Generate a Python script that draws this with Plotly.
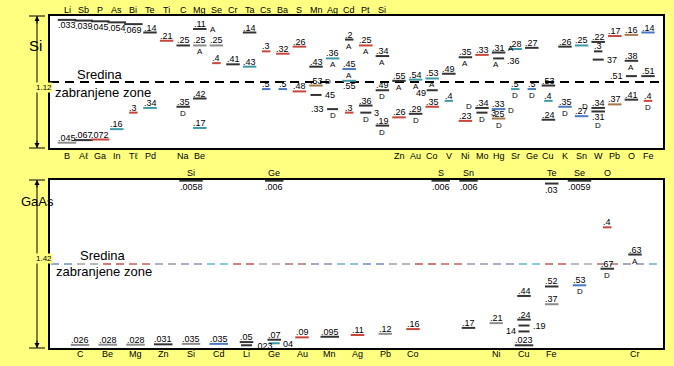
import plotly.graph_objects as go

# ---------------------------------------------------------------- data
SI_GAP = 1.12
GAAS_GAP = 1.42

SI_TOP_ELEMENTS = ["Li", "Sb", "P", "As", "Bi", "Te", "Ti", "C", "Mg", "Se", "Cr", "Ta",
                   "Cs", "Ba", "S", "Mn", "Ag", "Cd", "Pt", "Si"]
SI_BOTTOM_ELEMENTS = ["B", "Aℓ", "Ga", "In", "Tℓ", "Pd", "", "Na", "Be", "", "", "", "", "", "",
                      "", "", "", "", "", "Zn", "Au", "Co", "V", "Ni", "Mo", "Hg", "Sr", "Ge",
                      "Cu", "K", "Sn", "W", "Pb", "O", "Fe"]
GAAS_TOP_ELEMENTS = ["", "", "", "", "Si", "", "", "Ge", "", "", "", "", "", "S", "Sn", "", "",
                     "Te", "Se", "O", ""]
GAAS_BOTTOM_ELEMENTS = ["C", "Be", "Mg", "Zn", "Si", "Cd", "Li", "Ge", "Au", "Mn", "Ag", "Pb",
                        "Co", "", "", "Ni", "Cu", "Fe", "", "", "Cr"]

# (column, energy eV, measured from band "c"=conduction / "v"=valence, label, tag)
SI_LEVELS = [
    (0, 0.033, "c", ".033", ""), (1, 0.039, "c", ".039", ""), (2, 0.045, "c", ".045", ""),
    (3, 0.054, "c", ".054", ""), (4, 0.069, "c", ".069", ""), (5, 0.14, "c", ".14", ""),
    (6, 0.21, "c", ".21", ""), (7, 0.25, "c", ".25", ""), (8, 0.11, "c", ".11", "A"),
    (8, 0.25, "c", ".25", "A"), (9, 0.25, "c", ".25", ""), (9, 0.4, "c", ".4", ""),
    (10, 0.41, "c", ".41", ""), (11, 0.14, "c", ".14", ""), (11, 0.43, "c", ".43", ""),
    (12, 0.3, "c", ".3", ""), (13, 0.32, "c", ".32", ""), (14, 0.26, "c", ".26", ""),
    (15, 0.43, "c", ".43", ""), (16, 0.36, "c", ".36", "A"), (17, 0.2, "c", ".2", "A"),
    (17, 0.45, "c", ".45", "A"), (17, 0.55, "c", ".55", ""), (18, 0.25, "c", ".25", "A"),
    (19, 0.34, "c", ".34", "A"), (20, 0.55, "c", ".55", "A"), (21, 0.54, "c", ".54", "A"),
    (22, 0.53, "c", ".53", "A"), (23, 0.49, "c", ".49", ""), (24, 0.35, "c", ".35", "A"),
    (25, 0.33, "c", ".33", ""), (26, 0.31, "c", ".31", "A"), (26, 0.36, "c", ".36", "A"),
    (27, 0.28, "c", ".28", ""), (28, 0.27, "c", ".27", ""), (30, 0.26, "c", ".26", ""),
    (31, 0.25, "c", ".25", ""), (32, 0.22, "c", ".22", ""), (32, 0.3, "c", ".3", ""),
    (32, 0.37, "c", "37", ""), (33, 0.17, "c", ".17", ""), (34, 0.16, "c", ".16", ""),
    (34, 0.38, "c", ".38", "A"), (34, 0.51, "c", ".51", ""), (35, 0.14, "c", ".14", ""),
    (35, 0.51, "c", ".51", ""),
    (0, 0.045, "v", ".045", ""), (1, 0.067, "v", ".067", ""), (2, 0.072, "v", ".072", ""),
    (3, 0.16, "v", ".16", ""), (4, 0.3, "v", ".3", ""), (5, 0.34, "v", ".34", ""),
    (7, 0.35, "v", ".35", "D"), (8, 0.42, "v", ".42", ""), (8, 0.17, "v", ".17", ""),
    (12, 0.5, "v", ".5", ""), (13, 0.5, "v", ".5", ""), (14, 0.48, "v", ".48", ""),
    (15, 0.53, "v", ".53", "D"), (15, 0.45, "v", "45", ""), (16, 0.33, "v", ".33", "D"),
    (17, 0.3, "v", ".3", ""), (18, 0.36, "v", ".36", ""), (18, 0.3, "v", "3", "D"),
    (19, 0.49, "v", ".49", "D"),
    (19, 0.19, "v", ".19", "D"), (20, 0.26, "v", ".26", ""), (21, 0.29, "v", ".29", "D"),
    (22, 0.49, "v", "49", ""), (22, 0.35, "v", ".35", ""), (23, 0.4, "v", ".4", ""),
    (24, 0.23, "v", ".23", ""), (25, 0.34, "v", ".34", "D"), (25, 0.3, "v", "3", "D"),
    (26, 0.33, "v", ".33", "D"),
    (26, 0.25, "v", ".25", "D"), (27, 0.5, "v", ".5", "D"), (28, 0.5, "v", ".5", "D"),
    (29, 0.53, "v", ".53", ""), (29, 0.4, "v", ".4", ""), (29, 0.24, "v", ".24", ""),
    (30, 0.35, "v", ".35", "D"), (31, 0.27, "v", ".27", ""), (32, 0.34, "v", ".34", "D"),
    (32, 0.31, "v", ".31", "D"), (33, 0.37, "v", ".37", ""), (34, 0.41, "v", ".41", ""),
    (35, 0.4, "v", ".4", "D"),
]
# (label placement, tag placement, line colour) -- one entry per SI_LEVELS row
SI_STYLE = [
    ("b", "", "k"), ("b", "", "k"), ("b", "", "k"),
    ("b", "", "k"), ("b", "", "k"), ("a", "", "k"),
    ("a", "", "r"), ("a", "", "k"), ("a", "r", "k"),
    ("a", "b", "g"), ("a", "", "g"), ("a", "", "r"),
    ("a", "", "k"), ("a", "", "k"), ("a", "", "t"),
    ("a", "", "r"), ("a", "", "r"), ("a", "", "r"),
    ("a", "", "k"), ("a", "b", "t"), ("a", "b", "k"),
    ("a", "b", "b"), ("b", "", "t"), ("a", "b", "r"),
    ("a", "b", "k"), ("a", "b", "k"), ("a", "b", "t"),
    ("a", "b", "t"), ("a", "", "k"), ("a", "b", "k"),
    ("a", "", "r"), ("a", "ru", "k"), ("rd", "bl", "k"),
    ("a", "", "t"), ("a", "", "k"), ("a", "", "k"),
    ("a", "", "t"), ("a", "", "k"), ("a", "", "k"),
    ("r", "", "k"), ("a", "", "r"), ("a", "", "br"),
    ("a", "b", "k"), ("l", "", "k"), ("a", "", "b"),
    ("a", "", "k"),
    ("a", "", "g"), ("a", "", "k"), ("a", "", "r"),
    ("a", "", "t"), ("a", "", "r"), ("a", "", "t"),
    ("a", "b", "k"), ("a", "", "k"), ("a", "", "t"),
    ("a", "", "b"), ("a", "", "b"), ("a", "", "r"),
    ("a", "rl", "br"), ("r", "", "k"), ("l", "b", "k"),
    ("a", "", "r"), ("a", "", "k"), ("r", "b", "k"),
    ("a", "b", "k"),
    ("a", "b", "k"), ("a", "", "r"), ("a", "b", "k"),
    ("ld", "", "k"), ("a", "", "r"), ("a", "", "t"),
    ("a", "", "r"), ("a", "l", "k"), ("r", "b", "k"),
    ("a", "r", "b"),
    ("a", "b", "br"), ("a", "b", "t"), ("a", "b", "b"),
    ("a", "", "k"), ("a", "", "t"), ("a", "", "k"),
    ("a", "b", "b"), ("a", "", "b"), ("a", "l", "k"),
    ("b", "b2", "k"), ("a", "", "br"), ("a", "", "k"),
    ("a", "b", "r"),
]

GAAS_LEVELS = [
    (4, 0.0058, "c", ".0058", ""), (7, 0.006, "c", ".006", ""), (13, 0.006, "c", ".006", ""),
    (14, 0.006, "c", ".006", ""), (17, 0.03, "c", ".03", ""), (18, 0.0059, "c", ".0059", ""),
    (19, 0.4, "c", ".4", ""), (20, 0.63, "c", ".63", "A"),
    (0, 0.026, "v", ".026", ""), (1, 0.028, "v", ".028", ""), (2, 0.028, "v", ".028", ""),
    (3, 0.031, "v", ".031", ""), (4, 0.035, "v", ".035", ""), (5, 0.035, "v", ".035", ""),
    (6, 0.05, "v", ".05", ""), (6, 0.023, "v", ".023", ""), (7, 0.07, "v", ".07", ""),
    (7, 0.04, "v", "04", ""), (8, 0.09, "v", ".09", ""), (9, 0.095, "v", ".095", ""),
    (10, 0.11, "v", ".11", ""), (11, 0.12, "v", ".12", ""), (12, 0.16, "v", ".16", ""),
    (14, 0.17, "v", ".17", ""), (15, 0.21, "v", ".21", ""), (16, 0.44, "v", ".44", ""),
    (16, 0.24, "v", ".24", ""), (16, 0.19, "v", ".19", ""), (16, 0.14, "v", "14", ""),
    (16, 0.023, "v", ".023", ""), (17, 0.52, "v", ".52", ""), (17, 0.37, "v", ".37", ""),
    (18, 0.53, "v", ".53", "D"), (19, 0.67, "v", ".67", "D"),
]
GAAS_STYLE = [
    ("b", "", "k"), ("b", "", "k"), ("b", "", "k"),
    ("b", "", "k"), ("b", "", "k"), ("b", "", "k"),
    ("a", "", "r"), ("a", "b", "k"),
    ("a", "", "g"), ("a", "", "g"), ("a", "", "g"),
    ("a", "", "k"), ("a", "", "g"), ("a", "", "b"),
    ("a", "", "k"), ("r", "", "k"), ("a", "", "k"),
    ("r", "", "t"), ("a", "", "r"), ("a", "", "k"),
    ("a", "", "r"), ("a", "", "g"), ("a", "", "r"),
    ("a", "", "k"), ("a", "", "g"), ("a", "", "k"),
    ("a", "", "k"), ("r", "", "k"), ("l", "", "k"),
    ("a", "", "k"), ("a", "", "k"), ("a", "", "g"),
    ("a", "b", "b"), ("a", "b", "k"),
]

PANEL_NAMES = ["Si", "GaAs"]
MID_TEXT = ["Sredina", "zabranjene zone"]

# ---------------------------------------------------------------- layout constants
W, H = 674, 366
FONT = "Liberation Sans, Arial, sans-serif"
BG = "#FFFF80"
COLORS = {"k": "#333333", "r": "#c8463c", "t": "#3f9aa6", "b": "#4a78c0",
          "g": "#8c8c8c", "br": "#a5784a"}
GAAS_MID_COLORS = ["#6f8fb8", "#a0a0a0", "#c05050", "#c06060", "#9898a8", "#9090b8",
                   "#60b8c8", "#c05858", "#a8a8a8", "#b07070", "#8c8cb0", "#70b0c0"]

BOX_L, BOX_R = 50, 663
SI_T, SI_B = 16, 148
GA_T, GA_B = 180, 348
SI_C0, SI_STEP = 67, 16.6
GA_C0, GA_STEP = 80, 27.75


def px_x(p):
    return p / W


def px_y(p):
    return 1 - p / H


def label_width(s):
    return sum(2.5 if ch == "." else 5.0 for ch in s)


fig = go.Figure()
annotations = []
shapes = []


def draw_panel(levels, styles, top_el, bot_el, gap, xa, ya, step, top_shift, bot_shift, below_shift):
    groups = {}
    for (col, e, band, lab, tag), (lp, tp, ck) in zip(levels, styles):
        y = gap - e if band == "c" else e
        side = lp in ("l", "r", "ld", "rd")
        hw = 5.5 if side else max(4.0, label_width(lab) / 2 + 0.5)
        dx = hw / step
        xs, ys = groups.setdefault(ck, ([], []))
        xs += [col - dx, col + dx, None]
        ys += [y, y, None]
        a = dict(x=col, y=y, xref=xa, yref=ya, text=lab, showarrow=False,
                 font=dict(family=FONT, size=9, color="black"), yanchor="middle")
        if lp == "a":
            a.update(xanchor="center", yshift=5)
        elif lp == "b":
            a.update(xanchor="center", yshift=below_shift)
        elif lp == "r":
            a.update(x=col + dx, xanchor="left", xshift=1, yshift=-0.5)
        elif lp == "rd":
            a.update(x=col + dx, xanchor="left", xshift=1, yshift=-3)
        elif lp == "ld":
            a.update(x=col - dx, xanchor="right", xshift=1, yshift=-3)
        else:
            a.update(x=col - dx, xanchor="right", xshift=-1, yshift=0)
        annotations.append(a)
        if tag:
            t = dict(x=col, y=y, xref=xa, yref=ya, text=tag, showarrow=False,
                     font=dict(family=FONT, size=8, color="black"), yanchor="middle")
            half_lab = label_width(lab) / 2
            if tp == "b":
                t.update(xanchor="center", yshift=-6.5)
            elif tp == "bl":
                t.update(xanchor="center", yshift=-6.5, xshift=-3)
            elif tp == "b2":
                t.update(xanchor="center", yshift=-14)
            elif tp == "r":
                t.update(x=col + dx, xanchor="left", xshift=1, yshift=-1)
            elif tp == "ru":
                t.update(x=col + dx, xanchor="left", xshift=1, yshift=4)
            elif tp == "rl":
                t.update(xanchor="left", xshift=half_lab + 1, yshift=4)
            else:
                t.update(xanchor="right", xshift=-(half_lab + 2), yshift=1)
            annotations.append(t)
    for ck, (xs, ys) in groups.items():
        fig.add_trace(go.Scatter(x=xs, y=ys, mode="lines", xaxis=xa, yaxis=ya,
                                 line=dict(color=COLORS[ck], width=2),
                                 hoverinfo="skip", showlegend=False, cliponaxis=False))
    for i, el in enumerate(top_el):
        if el:
            annotations.append(dict(x=i, y=1, xref=xa, yref=ya + " domain", text=el,
                                    showarrow=False, yanchor="middle", yshift=top_shift,
                                    font=dict(family=FONT, size=9, color="black")))
    for i, el in enumerate(bot_el):
        if el:
            annotations.append(dict(x=i, y=0, xref=xa, yref=ya + " domain", text=el,
                                    showarrow=False, yanchor="middle", yshift=bot_shift,
                                    font=dict(family=FONT, size=9, color="black")))


si_range = [(BOX_L - SI_C0) / SI_STEP, (BOX_R - SI_C0) / SI_STEP]
ga_range = [(BOX_L - GA_C0) / GA_STEP, (BOX_R - GA_C0) / GA_STEP]

# midgap lines
fig.add_trace(go.Scatter(x=si_range, y=[SI_GAP / 2] * 2, mode="lines", xaxis="x", yaxis="y",
                         line=dict(color="black", width=2, dash="9px,6px"),
                         hoverinfo="skip", showlegend=False))
mid_groups = {}
p, i = BOX_L + 1, 0
while p < BOX_R - 2:
    c = GAAS_MID_COLORS[(i // 2) % len(GAAS_MID_COLORS)]
    xs, ys = mid_groups.setdefault(c, ([], []))
    xs += [(p - GA_C0) / GA_STEP, (min(p + 8, BOX_R - 1) - GA_C0) / GA_STEP, None]
    ys += [GAAS_GAP / 2, GAAS_GAP / 2, None]
    p += 13
    i += 1
for c, (xs, ys) in mid_groups.items():
    fig.add_trace(go.Scatter(x=xs, y=ys, mode="lines", xaxis="x2", yaxis="y2",
                             line=dict(color=c, width=1.5), hoverinfo="skip", showlegend=False))

draw_panel(SI_LEVELS, SI_STYLE, SI_TOP_ELEMENTS, SI_BOTTOM_ELEMENTS, SI_GAP, "x", "y",
           SI_STEP, 6, -8, -5.5)
draw_panel(GAAS_LEVELS, GAAS_STYLE, GAAS_TOP_ELEMENTS, GAAS_BOTTOM_ELEMENTS, GAAS_GAP, "x2", "y2",
           GA_STEP, 7, -6, -6)

# side decorations: band-gap arrows, names, gap values, midgap captions
for name, gap, top, bot, name_xy, mid_xy in [
        (PANEL_NAMES[0], SI_GAP, SI_T, SI_B, (27, 35, 15), ((75, 74), (53, 92))),
        (PANEL_NAMES[1], GAAS_GAP, GA_T, GA_B, (19, 201, 13), ((78, 255), (54, 271)))]:
    ax = px_x(37)
    shapes.append(dict(type="line", xref="paper", yref="paper", x0=ax, x1=ax,
                       y0=px_y(top), y1=px_y(bot), line=dict(color="black", width=1)))
    for yy in (top, bot):
        shapes.append(dict(type="line", xref="paper", yref="paper", x0=px_x(29), x1=px_x(45),
                           y0=px_y(yy), y1=px_y(yy), line=dict(color="black", width=1)))
    annotations.append(dict(x=ax, y=px_y(top), xref="paper", yref="paper", text="",
                            showarrow=True, ax=0, ay=9, arrowhead=2, arrowsize=1,
                            arrowwidth=1, arrowcolor="black"))
    annotations.append(dict(x=ax, y=px_y(bot), xref="paper", yref="paper", text="",
                            showarrow=True, ax=0, ay=-9, arrowhead=2, arrowsize=1,
                            arrowwidth=1, arrowcolor="black"))
    annotations.append(dict(x=px_x(35), y=px_y((top + bot) / 2), xref="paper", yref="paper",
                            text=f"{gap:.2f}", showarrow=False, bgcolor=BG, borderpad=0,
                            font=dict(family=FONT, size=8, color="black")))
    annotations.append(dict(x=px_x(name_xy[0]), y=px_y(name_xy[1]), xref="paper", yref="paper",
                            text=name, showarrow=False,
                            font=dict(family=FONT, size=name_xy[2], color="black")))
    for txt, (mx, my) in zip(MID_TEXT, mid_xy):
        annotations.append(dict(x=px_x(mx), y=px_y(my), xref="paper", yref="paper", text=txt,
                                showarrow=False, xanchor="left", yanchor="middle",
                                font=dict(family=FONT, size=13, color="black")))

common = dict(showgrid=False, zeroline=False, showticklabels=False, ticks="", showline=True,
              mirror=True, linecolor="black", linewidth=2, fixedrange=True)
fig.update_layout(
    width=W, height=H, autosize=False, margin=dict(l=0, r=0, t=0, b=0),
    paper_bgcolor=BG, plot_bgcolor="white", showlegend=False,
    xaxis=dict(domain=[px_x(BOX_L), px_x(BOX_R)], range=si_range, anchor="y", **common),
    yaxis=dict(domain=[px_y(SI_B), px_y(SI_T)], range=[0, SI_GAP], anchor="x", **common),
    xaxis2=dict(domain=[px_x(BOX_L), px_x(BOX_R)], range=ga_range, anchor="y2", **common),
    yaxis2=dict(domain=[px_y(GA_B), px_y(GA_T)], range=[0, GAAS_GAP], anchor="x2", **common),
    annotations=annotations, shapes=shapes,
)

fig.write_html("out.html", config={"displayModeBar": False},
               post_script="document.body.style.margin='0';document.body.style.background='" + BG + "';")
